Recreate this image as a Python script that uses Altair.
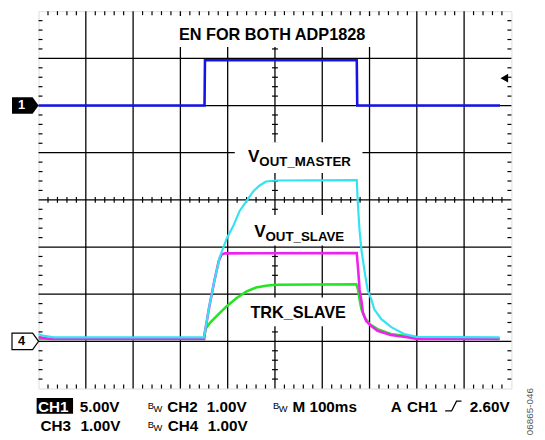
import altair as alt
import pandas as pd

FONT = "Liberation Sans"

# ---- scope settings: 10 x 8 divisions, 100 ms/div ----
ch1_vdiv, ch1_gnd = 5.0, 2.0      # CH1 5.00V/div, ground marker "1"
ch_vdiv, ch_gnd = 1.0, -3.0       # CH2..CH4 1.00V/div, ground marker "4"

# ---- traces (time in ms, value in volts) ----
t_en = [0, 351, 352, 673, 674, 976]
v_en = [0.0, 0.0, 4.8, 4.8, 0.0, 0.0]

t_master = [0, 12, 33, 350, 352, 360, 371, 383, 398, 412, 425, 440, 454, 467, 481, 502,
            673, 675, 679, 683, 690, 696, 704, 710, 725, 746, 773, 800, 975]
v_master = [0.15, 0.115, 0.083, 0.083, 0.20, 0.68, 1.24, 1.78, 2.18, 2.45, 2.76, 2.98, 3.18, 3.30, 3.39, 3.41,
            3.42, 2.97, 2.34, 1.93, 1.45, 1.09, 0.885, 0.68, 0.47, 0.30, 0.156, 0.094, 0.083]

t_slave = [0, 23, 350, 352, 360, 371, 381, 387, 394, 673, 676, 679, 683, 686, 693, 703, 717, 745, 780, 800, 975]
v_slave = [0.094, 0.05, 0.05, 0.198, 0.677, 1.24, 1.70, 1.84, 1.865, 1.875, 1.51, 1.09, 0.85, 0.61, 0.43,
           0.33, 0.225, 0.135, 0.087, 0.052, 0.052]

t_trk = [0, 350, 353, 363, 377, 398, 419, 440, 460, 481, 502, 672, 676, 679, 683, 690, 700, 717, 745, 773, 800, 975]
v_trk = [0.05, 0.05, 0.26, 0.40, 0.54, 0.746, 0.92, 1.06, 1.14, 1.18, 1.20, 1.21, 1.09, 0.885, 0.68, 0.50,
         0.365, 0.26, 0.156, 0.12, 0.087, 0.05]

trigger_level = 2.6  # volts on CH1

W, H = 480, 383
px_x = 1000.0 / W   # ms per pixel
px_y = 8.0 / H      # div per pixel

xs = alt.Scale(domain=[0, 1000], nice=False, zero=False)
ys = alt.Scale(domain=[-4, 4], nice=False, zero=False)


def X(f="x"):
    return alt.X(f"{f}:Q", scale=xs, axis=None)


def Y(f="y"):
    return alt.Y(f"{f}:Q", scale=ys, axis=None)


def trace(t, v, vdiv, gnd, color, sw):
    df = pd.DataFrame({"x": t, "y": [gnd + val / vdiv for val in v], "o": range(len(t))})
    return alt.Chart(df).mark_line(color=color, strokeWidth=sw, interpolate="linear").encode(
        x=X(), y=Y(), order="o:Q")


# ---- graticule ----
grid_v = alt.Chart(pd.DataFrame({"x": [100 * i for i in range(1, 10)]})).mark_rule(
    color="black", strokeWidth=1.3).encode(x=X())
grid_h = alt.Chart(pd.DataFrame({"y": [i for i in range(-3, 4)]})).mark_rule(
    color="black", strokeWidth=1.3).encode(y=Y())

tx = [20 * k for k in range(51) if k % 5 != 0]
ty = [-4 + 0.2 * k for k in range(41) if k % 5 != 0]
tk_x, tk_y = 4 * px_x, 4 * px_y
cx, cy = 3 * px_x, 3 * px_y
rows = []
for p in tx:
    rows.append((p, p, 4, 4 - tk_y))
    rows.append((p, p, -4, -4 + tk_y))
    rows.append((p, p, -cy, cy))
for p in ty:
    rows.append((0, tk_x, p, p))
    rows.append((1000, 1000 - tk_x, p, p))
    rows.append((500 - cx, 500 + cx, p, p))
ticks = alt.Chart(pd.DataFrame(rows, columns=["x", "x2", "y", "y2"])).mark_rule(
    color="black", strokeWidth=1.2).encode(x=X(), x2="x2:Q", y=Y(), y2="y2:Q")

# white label backgrounds that interrupt the grid
boxes = pd.DataFrame({
    "x": [294, 415, 419, 429],
    "x2": [706, 685, 658, 658],
    "y": [3.9, 1.22, -0.32, -2.07],
    "y2": [3.24, 0.57, -0.97, -2.68],
})
box_layer = alt.Chart(boxes).mark_rect(color="white").encode(x=X(), x2="x2:Q", y=Y(), y2="y2:Q")


def text_layer(rows, size, color="black", weight="bold", align="left", baseline="alphabetic", angle=0):
    df = pd.DataFrame(rows, columns=["x", "y", "text"])
    return alt.Chart(df).mark_text(font=FONT, fontSize=size, fontWeight=weight, color=color,
                                   align=align, baseline=baseline, angle=angle).encode(
        x=X(), y=Y(), text="text:N")


labels_big = text_layer([
    (494, 3.385, "EN FOR BOTH ADP1828"),
    (549, -2.5, "TRK_SLAVE"),
], 16.5, align="center")
labels_v = text_layer([
    (443, 0.80, "V"),
    (456, -0.78, "V"),
], 17.5)
labels_sub = text_layer([
    (467, 0.71, "OUT_MASTER"),
    (480, -0.865, "OUT_SLAVE"),
], 13.5)

# channel ground markers
marker_path = "M-1,-0.62L0.55,-0.62L1,0L0.55,0.62L-1,0.62Z"
m1 = alt.Chart(pd.DataFrame({"x": [-28], "y": [ch1_gnd]})).mark_point(
    shape=marker_path, size=729, filled=True, color="black", opacity=1).encode(x=X(), y=Y())
m4 = alt.Chart(pd.DataFrame({"x": [-28], "y": [ch_gnd]})).mark_point(
    shape=marker_path, size=729, filled=True, fill="white", stroke="black", strokeWidth=1.2,
    opacity=1).encode(x=X(), y=Y())
m1_txt = text_layer([(-36, ch1_gnd, "1")], 13, color="white", align="center", baseline="middle")
m4_txt = text_layer([(-36, ch_gnd, "4")], 13, align="center", baseline="middle")

trig = alt.Chart(pd.DataFrame({"x": [985], "y": [ch1_gnd + trigger_level / ch1_vdiv + 0.06]})).mark_point(
    shape="triangle-left", size=80, filled=True, color="black", opacity=1).encode(x=X(), y=Y())

# ---- footer (scope settings readout) ----
ch1_box = alt.Chart(pd.DataFrame({"x": [-4], "x2": [73], "y": [-4.2], "y2": [-4.535]})).mark_rect(
    color="black").encode(x=X(), x2="x2:Q", y=Y(), y2="y2:Q")
row1, row2 = -4.5, -4.9
footer = text_layer([
    (87, row1, "5.00V"),
    (272, row1, "CH2"), (356, row1, "1.00V"),
    (537, row1, "M 100ms"),
    (745, row1, "A"), (779, row1, "CH1"), (912, row1, "2.60V"),
    (4, row2, "CH3"), (89, row2, "1.00V"),
    (273, row2, "CH4"), (358, row2, "1.00V"),
], 15.5)
footer_ch1 = text_layer([(-1, row1, "CH1")], 15.5, color="white")
bw_b = text_layer([(231, row1 + 0.07, "B"), (496, row1 + 0.07, "B"), (231, row2 + 0.07, "B")],
                  9.5, weight="normal")
bw_w = text_layer([(243, row1, "W"), (508, row1, "W"), (243, row2, "W")], 9.5, weight="normal")
edge = alt.Chart(pd.DataFrame({"x": [860, 873.5, 884, 894.5], "y": [-4.475, -4.475, -4.267, -4.267],
                               "o": [0, 1, 2, 3]})).mark_line(color="black", strokeWidth=1.3).encode(
    x=X(), y=Y(), order="o:Q")
fig_id = text_layer([(1040, -4.49, "06865-046")], 10, color="#555555", weight="normal",
                    align="center", baseline="middle", angle=270)

chart = alt.layer(
    grid_v, grid_h, ticks, box_layer,
    trace(t_trk, v_trk, ch_vdiv, ch_gnd, "#22e622", 2.6),
    trace(t_slave, v_slave, ch_vdiv, ch_gnd, "#ee22ee", 2.6),
    trace(t_master, v_master, ch_vdiv, ch_gnd, "#33e3ef", 2.2),
    trace(t_en, v_en, ch1_vdiv, ch1_gnd, "#1414e6", 2.6),
    labels_big, labels_v, labels_sub,
    m1, m4, m1_txt, m4_txt, trig,
    ch1_box, footer, footer_ch1, bw_b, bw_w, edge, fig_id,
).properties(
    width=W, height=H,
    padding={"left": 31, "top": 0, "right": 26, "bottom": 49},
    autosize=alt.AutoSizeParams(type="none"),
).configure_view(stroke="black", strokeWidth=2, fill="white").configure(background="white")

chart.save("out.html", embed_options={"renderer": "svg", "actions": False})
